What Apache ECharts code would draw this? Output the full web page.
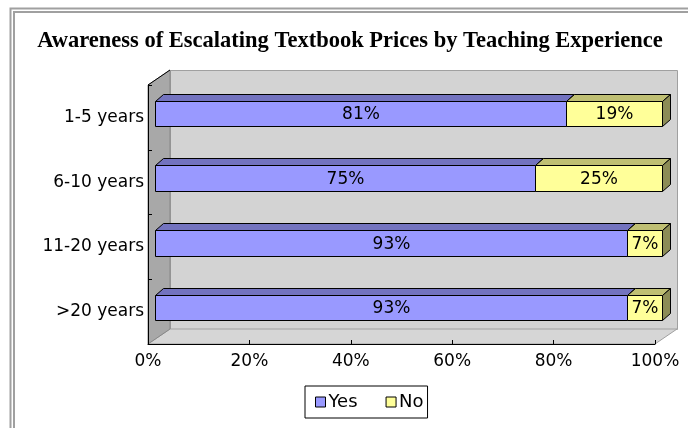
<!DOCTYPE html>
<html>
<head>
<meta charset="utf-8">
<script src="https://cdn.jsdelivr.net/npm/echarts@6/dist/echarts.min.js"></script>
<style>
html, body { margin: 0; padding: 0; background: #fff; }
#main { width: 688px; height: 428px; }
</style>
</head>
<body>
<div id="main"></div>
<script>
// data
var categories = ['1-5 years', '6-10 years', '11-20 years', '>20 years'];
var yesValues = [81, 75, 93, 93];
var noValues = [19, 25, 7, 7];
var xTicks = [0, 20, 40, 60, 80, 100];

// front plane of the plot box and the 3d depth
var plot = { left: 148, top: 85, width: 507, height: 259 };
var depth = { x: 22, y: 15 };
var barShift = { x: 7, y: -4 };   // bar front face relative to the front plane
var barDepth = { x: 8, y: 7 };

var FONT = 'DejaVu Sans';

var chart = echarts.init(document.getElementById('main'));

function px(v) { return Math.round(v) + 0.5; }

// 3d bar segment: front face, top face, right face + label
function barRenderer(faceColor, topColor, sideColor) {
    return function (params, api) {
        var cat = api.value(2);
        var p0 = api.coord([api.value(0), cat]);
        var p1 = api.coord([api.value(1), cat]);
        var h = api.size([0, 1])[1] * 0.39;
        var x0 = px(p0[0] + barShift.x), x1 = px(p1[0] + barShift.x);
        var yc = p0[1] + barShift.y;
        var y0 = px(yc - h / 2), y1 = px(yc + h / 2);
        var dx = barDepth.x, dy = barDepth.y;
        function st(fill) {
            return { fill: fill, stroke: '#000', lineWidth: 1 };
        }
        return {
            type: 'group',
            children: [
                { type: 'polygon', shape: { points: [[x0, y0], [x0 + dx, y0 - dy], [x1 + dx, y0 - dy], [x1, y0]] }, style: st(topColor) },
                { type: 'polygon', shape: { points: [[x1, y0], [x1 + dx, y0 - dy], [x1 + dx, y1 - dy], [x1, y1]] }, style: st(sideColor) },
                { type: 'rect', shape: { x: x0, y: y0, width: x1 - x0, height: y1 - y0 }, style: st(faceColor) },
                {
                    type: 'text', x: (x0 + x1) / 2, y: (y0 + y1) / 2 + 1,
                    style: { text: api.value(3) + '%', fill: '#000', fontSize: 17, fontFamily: FONT, align: 'center', verticalAlign: 'middle' }
                }
            ]
        };
    };
}

var yesData = categories.map(function (c, i) { return [0, yesValues[i], i, yesValues[i]]; });
var noData = categories.map(function (c, i) { return [yesValues[i], yesValues[i] + noValues[i], i, noValues[i]]; });

// walls of the 3d box
var L = plot.left, T = plot.top, R = plot.left + plot.width, B = plot.top + plot.height;
var dX = depth.x, dY = depth.y;

var option = {
    animation: false,
    backgroundColor: '#fff',
    title: {
        text: 'Awareness of Escalating Textbook Prices by Teaching Experience',
        left: 350, top: 30, textAlign: 'center', padding: 0,
        textStyle: { fontFamily: 'Liberation Serif', fontWeight: 'bold', fontSize: 22.5, color: '#000' }
    },
    legend: {
        left: 305, top: 386,
        padding: [7, 4, 7, 10],
        borderColor: '#000', borderWidth: 1,
        icon: 'rect', itemWidth: 10, itemHeight: 10, itemGap: 28,
        textStyle: { fontFamily: FONT, fontSize: 18, color: '#000', padding: [0, 0, 0, -2] },
        data: [
            { name: 'Yes', itemStyle: { color: '#9999ff', borderColor: '#000', borderWidth: 1 } },
            { name: 'No', itemStyle: { color: '#ffff99', borderColor: '#000', borderWidth: 1 } }
        ]
    },
    grid: { left: plot.left, top: plot.top, width: plot.width, height: plot.height },
    xAxis: {
        type: 'value', min: 0, max: 100, interval: 20, z: 5,
        axisLine: { show: true, lineStyle: { color: '#000' } },
        axisTick: { show: true, inside: true, length: 4, lineStyle: { color: '#000' } },
        axisLabel: { margin: 9, fontFamily: FONT, fontSize: 17, color: '#000', formatter: '{value}%' },
        splitLine: { show: false }
    },
    yAxis: {
        type: 'category', data: categories, inverse: true, z: 5,
        axisLine: { show: true, lineStyle: { color: '#000' } },
        axisTick: { show: true, inside: true, length: 4, lineStyle: { color: '#000' } },
        axisLabel: { margin: 4, fontFamily: FONT, fontSize: 17, color: '#000' }
    },
    graphic: { elements: [
        // double outer border
        { type: 'rect', z: 0, shape: { x: 10.5, y: 8.5, width: 720, height: 460 }, style: { fill: 'none', stroke: '#a0a0a0', lineWidth: 2 } },
        { type: 'rect', z: 0, shape: { x: 14, y: 12, width: 720, height: 460 }, style: { fill: 'none', stroke: '#a0a0a0', lineWidth: 2 } },
        // back wall
        { type: 'rect', z: 0, shape: { x: L + dX + 0.5, y: T - dY + 0.5, width: plot.width, height: plot.height }, style: { fill: '#d3d3d3', stroke: '#a0a0a0', lineWidth: 1 } },
        // floor
        { type: 'polygon', z: 0, shape: { points: [[L, B], [L + dX, B - dY], [R + dX, B - dY], [R, B]] }, style: { fill: '#d6d6d6', stroke: '#a0a0a0', lineWidth: 1 } },
        // side wall
        { type: 'polygon', z: 0, shape: { points: [[L, T], [L + dX, T - dY], [L + dX, B - dY], [L, B]] }, style: { fill: '#a8a8a8', stroke: '#888', lineWidth: 1 } },
        { type: 'line', z: 1, shape: { x1: L, y1: T, x2: L + dX, y2: T - dY }, style: { stroke: '#000', lineWidth: 1 } }
    ] },
    series: [
        {
            name: 'Yes', type: 'custom', z: 10,
            itemStyle: { color: '#9999ff' },
            encode: { x: [0, 1], y: 2 },
            renderItem: barRenderer('#9999ff', '#7373bf', '#5c5c99'),
            data: yesData
        },
        {
            name: 'No', type: 'custom', z: 11,
            itemStyle: { color: '#ffff99' },
            encode: { x: [0, 1], y: 2 },
            renderItem: barRenderer('#ffff99', '#bfbf73', '#8c8c56'),
            data: noData
        }
    ]
};

chart.setOption(option);
</script>
</body>
</html>
